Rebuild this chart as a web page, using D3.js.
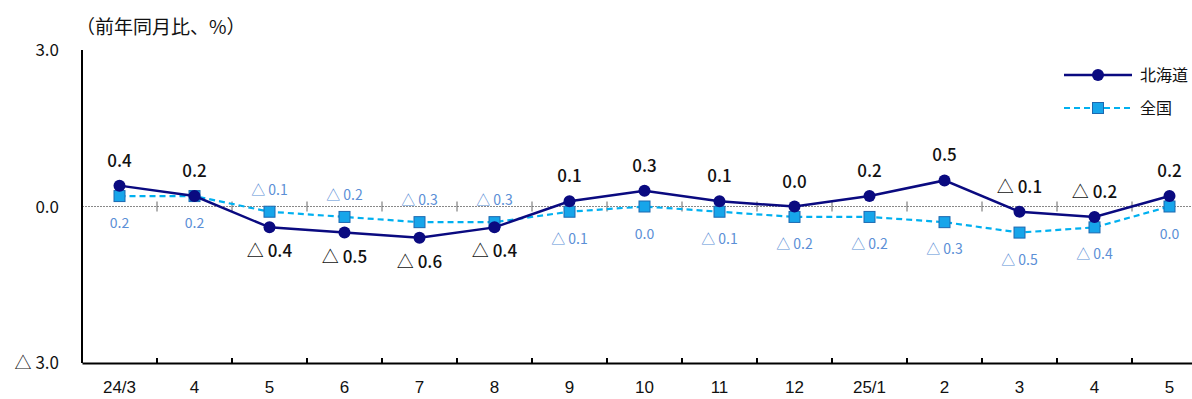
<!DOCTYPE html>
<html>
<head>
<meta charset="utf-8">
<script src="https://cdn.jsdelivr.net/npm/d3@7"></script>
<style>
  body { margin: 0; background: #fff; }
  svg { display: block; font-family: "Noto Sans CJK JP", "Liberation Sans", sans-serif; }
</style>
</head>
<body>
<div id="chart"></div>
<script>
// data
var months = ["24/3", "4", "5", "6", "7", "8", "9", "10", "11", "12", "25/1", "2", "3", "4", "5"];
var hokkaido = [0.4, 0.2, -0.4, -0.5, -0.6, -0.4, 0.1, 0.3, 0.1, 0.0, 0.2, 0.5, -0.1, -0.2, 0.2];
var zenkoku = [0.2, 0.2, -0.1, -0.2, -0.3, -0.3, -0.1, 0.0, -0.1, -0.2, -0.2, -0.3, -0.5, -0.4, 0.0];
var yTicks = [3.0, 0.0, -3.0];

var W = 1192, H = 399;
var margin = {top: 50, left: 82, bottom: 36};
var navy = "#0a0a80", sky = "#00b0f0", skyLabel = "#5b8fd6";

function fmt(v) {
  var s = Math.abs(v).toFixed(1);
  return v < 0 ? "△ " + s : s;
}

var svg = d3.select("#chart").append("svg")
  .attr("width", W).attr("height", H);

var x = d3.scaleBand()
  .domain(d3.range(months.length))
  .range([margin.left, margin.left + months.length * 75]);

var y = d3.scaleLinear()
  .domain([-3, 3])
  .range([H - margin.bottom, margin.top]);

// title
svg.append("text")
  .attr("x", 76).attr("y", 34)
  .attr("font-size", 19).attr("fill", "#111")
  .text("（前年同月比、%）");

// y labels
svg.selectAll(".ylab").data(yTicks).enter().append("text")
  .attr("x", 59).attr("y", function(d) { return y(d) + 6; })
  .attr("text-anchor", "end").attr("font-size", 17).attr("fill", "#111")
  .text(function(d) { return d < 0 ? "△ " + Math.abs(d).toFixed(1) : d.toFixed(1); });

// zero line (dotted)
svg.append("line")
  .attr("x1", margin.left).attr("x2", W)
  .attr("y1", y(0)).attr("y2", y(0))
  .attr("stroke", "#888").attr("stroke-width", 1).attr("stroke-dasharray", "2,1");

// ticks on zero line
var bounds = d3.range(1, months.length).map(function(i) { return x(i); });
svg.selectAll(".ztick").data(bounds).enter().append("line")
  .attr("x1", function(d) { return d; }).attr("x2", function(d) { return d; })
  .attr("y1", y(0) - 5).attr("y2", y(0) + 5)
  .attr("stroke", "#666").attr("stroke-width", 1);

// x axis
var xAxis = svg.append("g")
  .attr("transform", "translate(0," + y(-3) + ")")
  .call(d3.axisBottom(x).tickSize(0).tickFormat(function(i) { return months[i]; }));
xAxis.select(".domain").attr("stroke", "#000").attr("stroke-width", 2);
xAxis.selectAll("text").attr("font-size", 17).attr("fill", "#111").attr("dy", 27);
svg.selectAll(".xtick").data(bounds).enter().append("line")
  .attr("x1", function(d) { return d; }).attr("x2", function(d) { return d; })
  .attr("y1", y(-3)).attr("y2", y(-3) - 5)
  .attr("stroke", "#000").attr("stroke-width", 2);

// y axis line
svg.append("line")
  .attr("x1", margin.left).attr("x2", margin.left)
  .attr("y1", y(3)).attr("y2", y(-3))
  .attr("stroke", "#000").attr("stroke-width", 2);

var cx = function(d, i) { return x(i) + x.bandwidth() / 2; };

// national series
svg.append("path").datum(zenkoku)
  .attr("fill", "none").attr("stroke", sky).attr("stroke-width", 2.2)
  .attr("stroke-dasharray", "6,4")
  .attr("d", d3.line().x(cx).y(function(d) { return y(d); }));
svg.selectAll(".sq").data(zenkoku).enter().append("rect")
  .attr("x", function(d, i) { return cx(d, i) - 5.5; })
  .attr("y", function(d) { return y(d) - 5.5; })
  .attr("width", 11).attr("height", 11)
  .attr("fill", "#17a5ea").attr("stroke", "#1c68b0").attr("stroke-width", 1);

// hokkaido series
svg.append("path").datum(hokkaido)
  .attr("fill", "none").attr("stroke", navy).attr("stroke-width", 2.5)
  .attr("d", d3.line().x(cx).y(function(d) { return y(d); }));
svg.selectAll(".dot").data(hokkaido).enter().append("circle")
  .attr("cx", cx).attr("cy", function(d) { return y(d); })
  .attr("r", 6).attr("fill", navy);

// labels: hokkaido on the side away from national
svg.selectAll(".hlab").data(hokkaido).enter().append("text")
  .attr("x", cx)
  .attr("y", function(d, i) { return d >= zenkoku[i] ? y(d) - 19 : y(d) + 30; })
  .attr("text-anchor", "middle").attr("font-size", 17).attr("font-weight", 500)
  .attr("fill", "#111")
  .text(fmt);

svg.selectAll(".zlab").data(zenkoku).enter().append("text")
  .attr("x", cx)
  .attr("y", function(d, i) { return hokkaido[i] >= d ? y(d) + 32 : y(d) - 17; })
  .attr("text-anchor", "middle").attr("font-size", 14)
  .attr("fill", skyLabel)
  .text(fmt);

// legend
var leg = svg.append("g").attr("transform", "translate(1064,75)");
leg.append("line").attr("x1", 0).attr("x2", 68).attr("stroke", navy).attr("stroke-width", 2.5);
leg.append("circle").attr("cx", 34).attr("r", 6).attr("fill", navy);
leg.append("text").attr("x", 76).attr("y", 6).attr("font-size", 16).attr("fill", "#111").text("北海道");
leg.append("line").attr("x1", 0).attr("x2", 68).attr("y1", 33).attr("y2", 33)
  .attr("stroke", sky).attr("stroke-width", 2.2).attr("stroke-dasharray", "6,4");
leg.append("rect").attr("x", 28.5).attr("y", 27.5).attr("width", 11).attr("height", 11)
  .attr("fill", "#17a5ea").attr("stroke", "#1c68b0");
leg.append("text").attr("x", 76).attr("y", 39).attr("font-size", 16).attr("fill", "#111").text("全国");
</script>
</body>
</html>
